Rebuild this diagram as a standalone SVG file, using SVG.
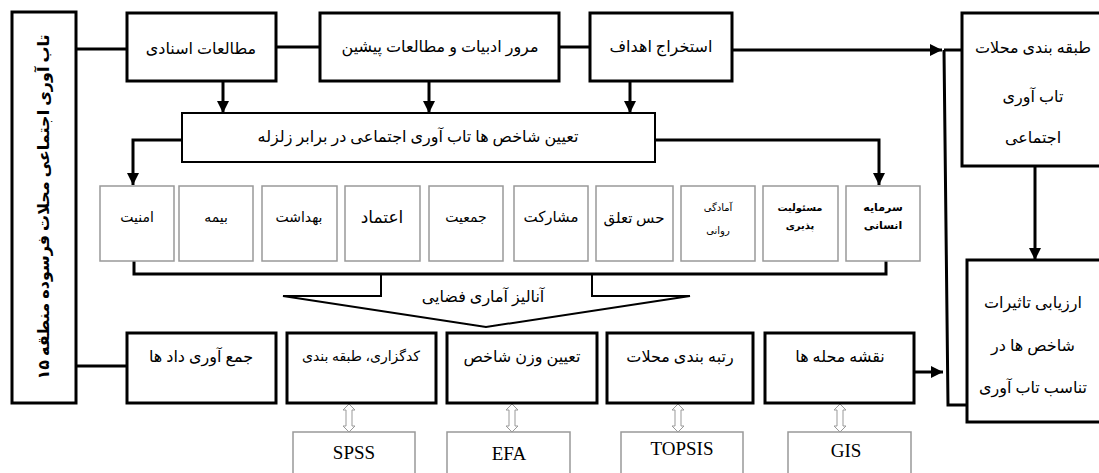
<svg xmlns="http://www.w3.org/2000/svg" width="1099" height="473" viewBox="0 0 1099 473">
<style>
.bx{fill:#fff;stroke:#000;stroke-width:3}
.bm{fill:#fff;stroke:#000;stroke-width:2}
.bg{fill:#fff;stroke:#999;stroke-width:1.5}
.ln{fill:none;stroke:#000;stroke-width:3}
.fa{font-family:"Liberation Serif","DejaVu Sans",serif;fill:#000;text-anchor:middle}
.t16{font-size:16px}
.t14{font-size:14px}
.t10{font-size:10px}
.lat{font-family:"Liberation Serif",serif;font-size:19px;text-anchor:middle;fill:#000}
.da{fill:#fff;stroke:#999;stroke-width:1}
</style>
<defs>
<marker id="ah" viewBox="0 0 10 10" refX="10" refY="5" markerWidth="12" markerHeight="12" markerUnits="userSpaceOnUse" orient="auto">
<path d="M0,0 L10,5 L0,10 Z" fill="#000"/>
</marker>
</defs>
<rect width="1099" height="473" fill="#fff"/>

<g id="connectors">
<line class="ln" x1="76" y1="49" x2="127" y2="49"/>
<line class="ln" x1="276" y1="47" x2="320" y2="47"/>
<line class="ln" x1="559" y1="47" x2="590" y2="47"/>
<line class="ln" x1="732" y1="50" x2="942" y2="50" marker-end="url(#ah)"/>
<line class="ln" x1="944" y1="50" x2="962" y2="50"/>
<polyline class="ln" points="944,50 948,405 967,405"/>
<line class="ln" x1="1035" y1="166" x2="1035" y2="260" marker-end="url(#ah)"/>
<line class="ln" x1="914" y1="372" x2="943" y2="372" marker-end="url(#ah)"/>
<line class="ln" x1="76" y1="366" x2="127" y2="366"/>
<line class="ln" x1="223" y1="81" x2="223" y2="113" marker-end="url(#ah)"/>
<line class="ln" x1="429" y1="81" x2="429" y2="113" marker-end="url(#ah)"/>
<line class="ln" x1="630" y1="81" x2="630" y2="113" marker-end="url(#ah)"/>
<polyline class="ln" points="182,140 133,140 133,185" marker-end="url(#ah)"/>
<polyline class="ln" points="655,140 879,140 879,185" marker-end="url(#ah)"/>
<polyline class="ln" points="134,261 134,274 886,274 886,261"/>
<polyline fill="none" stroke="#000" stroke-width="2" points="381,274 381,296 283,296 486,327 690,296 592,296 592,274"/>
<path class="da" d="M349,404 L355,410 L352,410 L352,426 L355,426 L349,432 L343,426 L346,426 L346,410 L343,410 Z"/>
<path class="da" d="M512,404 L518,410 L515,410 L515,426 L518,426 L512,432 L506,426 L509,426 L509,410 L506,410 Z"/>
<path class="da" d="M678,404 L684,410 L681,410 L681,426 L684,426 L678,432 L672,426 L675,426 L675,410 L672,410 Z"/>
<path class="da" d="M840,404 L846,410 L843,410 L843,426 L846,426 L840,432 L834,426 L837,426 L837,410 L834,410 Z"/>
<text class="fa t16" x="483" y="302">آنالیز آماری فضایی</text>
</g>

<g id="n-left">
<rect class="bx" x="12" y="12" width="64" height="391"/>
<text class="fa t16" font-weight="bold" transform="translate(49,207) rotate(-90)">تاب آوری اجتماعی محلات فرسوده منطقه ۱۵</text>
</g>

<g id="n-asnadi">
<rect class="bx" x="127" y="13" width="149" height="68"/>
<text class="fa t16" x="201" y="54">مطالعات اسنادی</text>
</g>
<g id="n-morur">
<rect class="bx" x="320" y="13" width="239" height="68"/>
<text class="fa t16" x="440" y="52">مرور ادبیات و مطالعات پیشین</text>
</g>
<g id="n-ahdaf">
<rect class="bx" x="590" y="13" width="142" height="68"/>
<text class="fa t16" x="661" y="52">استخراج اهداف</text>
</g>
<g id="n-tabaqe">
<rect class="bx" x="962" y="13" width="142" height="153"/>
<text class="fa t16" x="1033" y="53">طبقه بندی محلات</text>
<text class="fa t16" x="1033" y="102">تاب آوری</text>
<text class="fa t16" x="1033" y="143">اجتماعی</text>
</g>
<g id="n-arzyabi">
<rect class="bx" x="967" y="260" width="137" height="162"/>
<text class="fa t16" x="1033" y="308">ارزیابی تاثیرات</text>
<text class="fa t16" x="1033" y="351">شاخص ها در</text>
<text class="fa t16" x="1033" y="393">تناسب تاب آوری</text>
</g>
<g id="n-tayin">
<rect class="bm" x="182" y="113" width="473" height="49"/>
<text class="fa t16" x="418" y="142">تعیین شاخص ها تاب آوری اجتماعی در برابر زلزله</text>
</g>

<g id="n-amniat"><rect class="bg" x="100" y="186" width="74" height="75"/><text class="fa t14" x="137" y="222">امنیت</text></g>
<g id="n-bime"><rect class="bg" x="179" y="186" width="74" height="75"/><text class="fa t14" x="216" y="222">بیمه</text></g>
<g id="n-behdasht"><rect class="bg" x="262" y="186" width="75" height="75"/><text class="fa t14" x="299" y="222">بهداشت</text></g>
<g id="n-etemad"><rect class="bg" x="345" y="186" width="75" height="75"/><text class="fa" font-size="17" x="382" y="223">اعتماد</text></g>
<g id="n-jamiat"><rect class="bg" x="429" y="186" width="74" height="75"/><text class="fa t14" x="466" y="222">جمعیت</text></g>
<g id="n-mosharekat"><rect class="bg" x="514" y="186" width="74" height="75"/><text class="fa" font-size="15" x="551" y="222">مشارکت</text></g>
<g id="n-hes"><rect class="bg" x="596" y="186" width="77" height="75"/><text class="fa" font-size="15" x="634" y="223">حس تعلق</text></g>
<g id="n-amadegi"><rect class="bg" x="681" y="186" width="74" height="75"/><text class="fa t10" x="718" y="211">آمادگی</text><text class="fa t10" x="718" y="234">روانی</text></g>
<g id="n-masuliat"><rect class="bg" x="763" y="186" width="75" height="75"/><text class="fa t10" font-weight="bold" x="800" y="211">مسئولیت</text><text class="fa t10" font-weight="bold" x="800" y="229">پذیری</text></g>
<g id="n-sarmaye"><rect class="bg" x="846" y="186" width="74" height="75"/><text class="fa" font-size="11" font-weight="bold" x="883" y="211">سرمایه</text><text class="fa" font-size="11" font-weight="bold" x="883" y="229">انسانی</text></g>

<g id="n-jamavari"><rect class="bx" x="127" y="333" width="149" height="70"/><text class="fa t16" x="201" y="362">جمع آوری داد ها</text></g>
<g id="n-kodgozari"><rect class="bx" x="287" y="333" width="149" height="70"/><text class="fa t14" x="361" y="361">کدگزاری، طبقه بندی</text></g>
<g id="n-vazn"><rect class="bx" x="447" y="333" width="150" height="70"/><text class="fa t16" x="522" y="362">تعیین وزن شاخص</text></g>
<g id="n-rotbe"><rect class="bx" x="607" y="333" width="146" height="70"/><text class="fa t16" x="680" y="362">رتبه بندی  محلات</text></g>
<g id="n-naqshe"><rect class="bx" x="765" y="333" width="149" height="70"/><text class="fa t16" x="840" y="362">نقشه محله ها</text></g>

<g id="n-spss"><rect class="bg" x="293" y="432" width="122" height="50"/><text class="lat" x="354" y="459">SPSS</text></g>
<g id="n-efa"><rect class="bg" x="447" y="432" width="123" height="50"/><text class="lat" font-size="21" x="509" y="460">EFA</text></g>
<g id="n-topsis"><rect class="bg" x="621" y="432" width="122" height="50"/><text class="lat" x="682" y="455">TOPSIS</text></g>
<g id="n-gis"><rect class="bg" x="788" y="432" width="123" height="50"/><text class="lat" font-size="21" x="846" y="457">GIS</text></g>
</svg>
